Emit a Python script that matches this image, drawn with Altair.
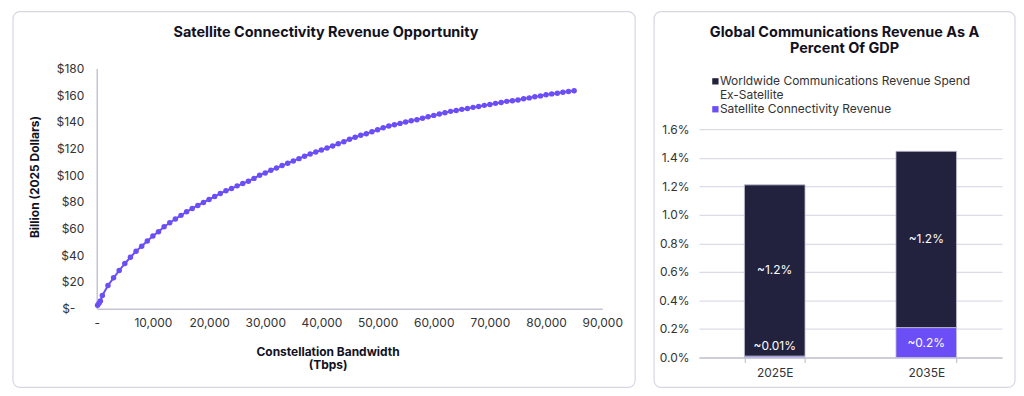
import altair as alt
import pandas as pd

# ---------------- data ----------------
bandwidth_tbps = [150, 400, 650,
    1000, 2000, 3000, 4000, 5000, 6000, 7000, 8000, 9000, 10000,
    11000, 12000, 13000, 14000, 15000, 16000, 17000, 18000, 19000, 20000,
    21000, 22000, 23000, 24000, 25000, 26000, 27000, 28000, 29000, 30000,
    31000, 32000, 33000, 34000, 35000, 36000, 37000, 38000, 39000, 40000,
    41000, 42000, 43000, 44000, 45000, 46000, 47000, 48000, 49000, 50000,
    51000, 52000, 53000, 54000, 55000, 56000, 57000, 58000, 59000, 60000,
    61000, 62000, 63000, 64000, 65000, 66000, 67000, 68000, 69000, 70000,
    71000, 72000, 73000, 74000, 75000, 76000, 77000, 78000, 79000, 80000,
    81000, 82000, 83000, 84000, 85000]
revenue_bn = [2.5, 4.0, 5.8,
    9.9, 17.4, 23.1, 28.6, 33.8, 38.5, 43.0, 46.7, 50.7, 54.5,
    57.7, 61.4, 64.4, 67.2, 69.9, 72.6, 75.1, 77.3, 79.6, 81.8,
    84.0, 86.3, 88.3, 90.0, 92.0, 93.7, 95.5, 97.6, 100.0, 101.7,
    103.7, 105.4, 107.2, 108.9, 110.7, 112.4, 114.2, 115.9, 117.4, 118.9,
    120.4, 121.9, 123.6, 125.1, 126.9, 128.4, 129.9, 131.0, 132.5, 134.0,
    135.5, 136.8, 137.8, 138.8, 139.8, 140.7, 141.6, 142.7, 143.8, 144.8,
    145.8, 146.8, 147.8, 148.5, 149.3, 150.0, 150.8, 151.5, 152.3, 153.0,
    153.8, 154.5, 155.3, 155.7, 156.4, 157.2, 157.9, 158.7, 159.4, 160.2,
    160.9, 161.4, 162.2, 162.7, 163.2]

years = ["2025E", "2035E"]
ex_satellite_pct = [0.0120, 0.01235]
satellite_pct = [0.0001, 0.0021]
ex_satellite_labels = ["~1.2%", "~1.2%"]
satellite_labels = ["~0.01%", "~0.2%"]
series_names = ["Worldwide Communications Revenue Spend Ex-Satellite",
                "Satellite Connectivity Revenue"]

left_title = "Satellite Connectivity Revenue Opportunity"
right_title = ["Global Communications Revenue As A", "Percent Of GDP"]

# ---------------- style ----------------
FONT = "Inter"
PURPLE = "#6c4ef6"
NAVY = "#22223f"
BORDER = "#d6d6e4"
AXIS_GRAY = "#c4c4d2"
TEXT = "#333333"
DARK = "#111122"

curve = pd.DataFrame({"tbps": bandwidth_tbps, "rev": revenue_bn})

W1, H1 = 507, 241
W2, H2 = 304, 290          # right plot shares the left plot's top edge
R_TOP = 61                 # right bars' value axis starts this far below


def one(**kw):
    return pd.DataFrame([kw])


def panel_box(x1, x2, y1, y2):
    return alt.Chart(one(a=1)).mark_rect(
        fill="white", fillOpacity=0, stroke=BORDER, strokeWidth=1.2, cornerRadius=7
    ).encode(x=alt.value(x1), x2=alt.value(x2), y=alt.value(y1), y2=alt.value(y2))


def label(text, x, y, size=12, weight="normal", color=TEXT, align="center", angle=0):
    kw = dict(fontSize=size, fontWeight=weight, color=color, align=align,
              baseline="middle", font=FONT)
    if angle:
        kw["angle"] = angle
    return alt.Chart(one(t=text)).mark_text(**kw).encode(
        x=alt.value(x), y=alt.value(y), text="t:N")


def square(color, x, y):
    return alt.Chart(one(a=1)).mark_square(size=40, opacity=1, color=color).encode(
        x=alt.value(x), y=alt.value(y))


# ---------------- left panel ----------------
box1 = panel_box(-84, W1 + 33, -57, H1 + 79)

line = alt.Chart(curve).mark_line(
    color=PURPLE, strokeWidth=2,
    point=alt.OverlayMarkDef(filled=True, size=30, color=PURPLE, opacity=1)
).encode(
    x=alt.X("tbps:Q", scale=alt.Scale(domain=[0, 90000], nice=False),
            axis=alt.Axis(values=[0, 10000, 20000, 30000, 40000, 50000, 60000, 70000, 80000, 90000],
                          labelExpr="datum.value == 0 ? '-' : format(datum.value, ',')",
                          labelOverlap=False, labelFlush=False,
                          title=None, grid=False, ticks=False, domainColor=AXIS_GRAY,
                          domainWidth=1.5, labelPadding=9, labelFontSize=12,
                          labelColor=TEXT, labelFont=FONT)),
    y=alt.Y("rev:Q", scale=alt.Scale(domain=[0, 180], nice=False),
            axis=alt.Axis(values=[0, 20, 40, 60, 80, 100, 120, 140, 160, 180],
                          labelExpr="datum.value == 0 ? '$-' : '$' + datum.value",
                          labelOverlap=False, labelFlush=False,
                          title=None, grid=False, ticks=False, domainColor=AXIS_GRAY,
                          domainWidth=1.5,
                          labelPadding={"condition": {"test": "datum.value == 0", "value": 22},
                                        "value": 13},
                          labelFontSize=12, labelColor=TEXT, labelFont=FONT)),
)

left = alt.layer(
    box1,
    line,
    label(left_title, 230, -35, size=14.5, weight="bold", color=DARK),
    label("Billion (2025 Dollars)", -62, 109, size=12, weight="bold", color=DARK, angle=270),
    label("Constellation Bandwidth", 232, 284, size=12, weight="bold", color=DARK),
    label("(Tbps)", 232, 298, size=12, weight="bold", color=DARK),
).properties(width=W1, height=H1)

# ---------------- right panel ----------------
rows = []
for i, yr in enumerate(years):
    rows.append({"year": yr, "series": series_names[1], "value": satellite_pct[i],
                 "label": satellite_labels[i], "ord": 0})
    rows.append({"year": yr, "series": series_names[0], "value": ex_satellite_pct[i],
                 "label": ex_satellite_labels[i], "ord": 1})
bars_df = pd.DataFrame(rows)

box2 = panel_box(-45, W2 + 13, -57, H2 + 30)

yscale = alt.Scale(domain=[0, 0.016], nice=False, range=[H2, R_TOP])
xscale = alt.Scale(paddingInner=0.6, paddingOuter=0.3)
cscale = alt.Scale(domain=series_names, range=[NAVY, PURPLE])

xaxis = alt.Axis(title=None, labelAngle=0, domainColor=AXIS_GRAY, domainWidth=1.5,
                 tickColor=AXIS_GRAY, tickSize=5, tickWidth=1.2, tickBand="extent",
                 labelPadding=5, labelFontSize=12, labelColor=TEXT, labelFont=FONT)
yaxis = alt.Axis(values=[0, 0.002, 0.004, 0.006, 0.008, 0.010, 0.012, 0.014, 0.016],
                 format=".1%", title=None, domain=False, ticks=False,
                 labelOverlap=False, labelFlush=False,
                 gridColor="#dcdce8", gridWidth=1.3, labelPadding=10,
                 labelFontSize=12, labelColor=TEXT, labelFont=FONT)

bars = alt.Chart(bars_df).mark_bar(stroke="#c3c3d3", strokeWidth=0.8).encode(
    x=alt.X("year:N", scale=xscale, axis=xaxis),
    y=alt.Y("value:Q", stack="zero", scale=yscale, axis=yaxis),
    color=alt.Color("series:N", scale=cscale, legend=None),
    order=alt.Order("ord:Q", sort="ascending"),
)

bar_labels = alt.Chart(bars_df).transform_stack(
    stack="value", groupby=["year"], as_=["v0", "v1"],
    sort=[alt.SortField("ord", order="ascending")]
).transform_calculate(
    mid="max((datum.v0 + datum.v1) / 2, 0.0008)"
).mark_text(color="white", fontSize=12, font=FONT, baseline="middle").encode(
    x=alt.X("year:N", scale=xscale, axis=xaxis),
    y=alt.Y("mid:Q", scale=yscale, axis=yaxis),
    text="label:N",
)

right = alt.layer(
    box2,
    bars,
    bar_labels,
    square(NAVY, 16.5, 13),
    square(PURPLE, 16.5, 41),
    label(right_title[0], 146, -35, size=14.5, weight="bold", color=DARK),
    label(right_title[1], 146, -19, size=14.5, weight="bold", color=DARK),
    label("Worldwide Communications Revenue Spend", 21, 13, size=12, align="left"),
    label("Ex-Satellite", 21, 27, size=12, align="left"),
    label("Satellite Connectivity Revenue", 21, 41, size=12, align="left"),
).properties(width=W2, height=H2)

chart = alt.hconcat(left, right, spacing=17).properties(
    padding={"left": 4, "top": 2, "right": 0, "bottom": 2},
    background="white",
).configure_view(strokeWidth=0, stroke="transparent")

chart.save("out.html", embed_options={"renderer": "svg", "actions": False})
